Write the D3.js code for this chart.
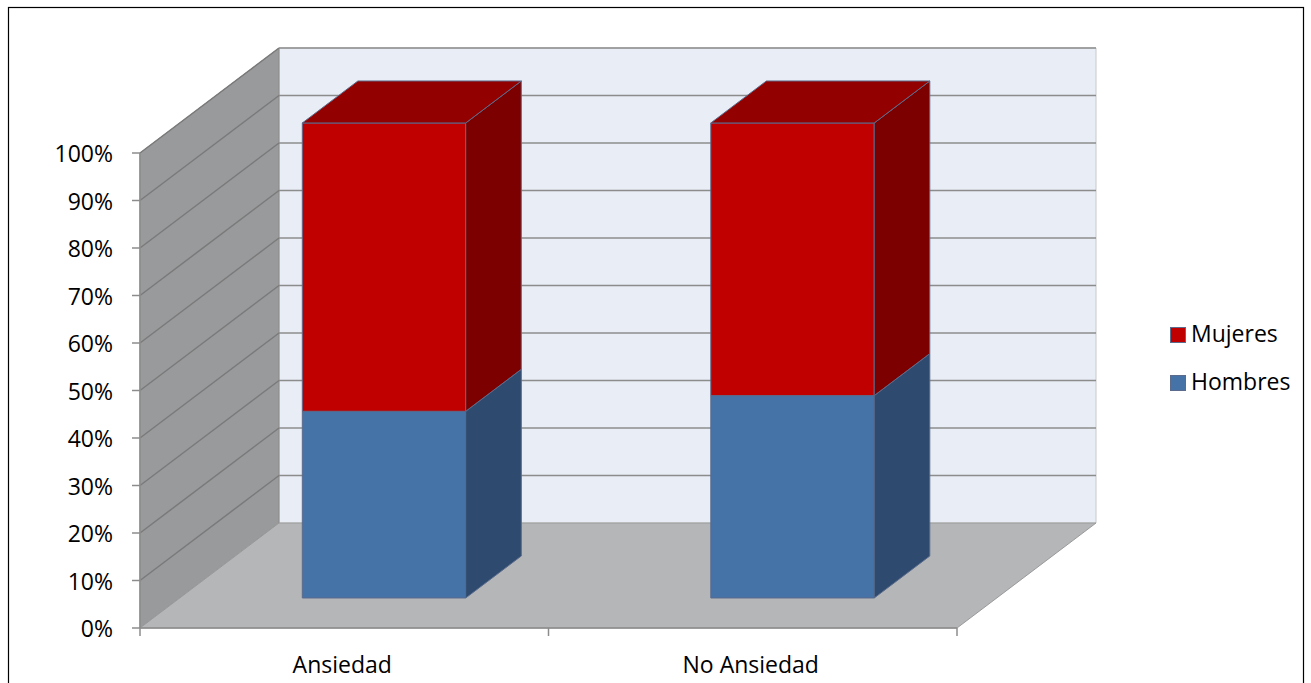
<!DOCTYPE html>
<html>
<head>
<meta charset="utf-8">
<script src="https://cdn.jsdelivr.net/npm/d3@7"></script>
<style>
  body { margin: 0; background: #fff; }
  text { font-family: "Open Sans", "Liberation Sans", sans-serif; fill: #000; }
</style>
</head>
<body>
<div id="chart"></div>
<script>
// Chart data
const categories = ["Ansiedad", "No Ansiedad"];
const seriesNames = ["Hombres", "Mujeres"];
const hombres = [0.393, 0.426];
const mujeres = [0.607, 0.574];
const tickValues = [0, 0.1, 0.2, 0.3, 0.4, 0.5, 0.6, 0.7, 0.8, 0.9, 1];

const width = 1311, height = 683;

const svg = d3.select("#chart").append("svg")
  .attr("width", width)
  .attr("height", height);

// Outer border
svg.append("rect")
  .attr("x", 8.5).attr("y", 7.5)
  .attr("width", 1295).attr("height", 690)
  .attr("fill", "none")
  .attr("stroke", "#000")
  .attr("stroke-width", 1.2);

// Front plane scales
const x = d3.scaleBand().domain(categories).range([140, 957]).padding(0);
const y = d3.scaleLinear().domain([0, 1]).range([628, 153]);

// Depth offset for the 3D projection
const depthX = 139, depthY = -105;
function pt(px, v, d) {
  return [px + d * depthX, y(v) + d * depthY];
}
const poly = pts => "M" + pts.map(p => p.join(",")).join("L") + "Z";

const x0 = x.range()[0], x1 = x.range()[1];

// Back wall
svg.append("path")
  .attr("d", poly([pt(x0, 0, 1), pt(x1, 0, 1), pt(x1, 1, 1), pt(x0, 1, 1)]))
  .attr("fill", "#e9edf5")
  .attr("stroke", "#c8c8c8");

// Side wall
svg.append("path")
  .attr("d", poly([pt(x0, 0, 0), pt(x0, 0, 1), pt(x0, 1, 1), pt(x0, 1, 0)]))
  .attr("fill", "#999a9c")
  .attr("stroke", "#8a8a8a");

// Floor
svg.append("path")
  .attr("d", poly([pt(x0, 0, 0), pt(x1, 0, 0), pt(x1, 0, 1), pt(x0, 0, 1)]))
  .attr("fill", "#b4b6b8")
  .attr("stroke", "#9a9a9a");

// Gridlines: side wall part, then back wall part
const grid = svg.append("g");
tickValues.slice(1).forEach(v => {
  grid.append("path")
    .attr("d", "M" + pt(x0, v, 0) + "L" + pt(x0, v, 1))
    .attr("fill", "none")
    .attr("stroke", "#7a7a7a")
    .attr("stroke-width", 1.5);
  grid.append("path")
    .attr("d", "M" + pt(x0, v, 1) + "L" + pt(x1, v, 1))
    .attr("fill", "none")
    .attr("stroke", "#8c8c8c")
    .attr("stroke-width", 1.5);
});

// Axes
svg.append("line")
  .attr("x1", x0).attr("x2", x1).attr("y1", y(0)).attr("y2", y(0))
  .attr("stroke", "#8c8c8c").attr("stroke-width", 1.5);
svg.append("line")
  .attr("x1", x0).attr("x2", x0).attr("y1", y(0)).attr("y2", y(1))
  .attr("stroke", "#8c8c8c").attr("stroke-width", 1.5);

svg.selectAll(".ytick")
  .data(tickValues)
  .enter().append("line")
  .attr("x1", x0 - 8).attr("x2", x0)
  .attr("y1", d => y(d)).attr("y2", d => y(d))
  .attr("stroke", "#8c8c8c").attr("stroke-width", 1.5);

svg.selectAll(".ylabel")
  .data(tickValues)
  .enter().append("text")
  .attr("x", 113)
  .attr("y", d => y(d) + 9)
  .attr("text-anchor", "end")
  .style("font-size", "23px")
  .text(d => d3.format(".0%")(d));

const xTicks = categories.map(c => x(c)).concat([x1]);
svg.selectAll(".xtick")
  .data(xTicks)
  .enter().append("line")
  .attr("x1", d => d).attr("x2", d => d)
  .attr("y1", y(0)).attr("y2", y(0) + 8)
  .attr("stroke", "#8c8c8c").attr("stroke-width", 1.5);

svg.selectAll(".xlabel")
  .data(categories)
  .enter().append("text")
  .attr("x", d => x(d) + x.bandwidth() / 2 - 2)
  .attr("y", 673)
  .attr("text-anchor", "middle")
  .style("font-size", "23px")
  .text(d => d);

// 3D bars
const barFrac = 0.4, dFront = 0.286, dBack = 0.686;
const colors = {
  Hombres: { front: "#4572a7", top: "#3a5f8c", side: "#2e4a6e" },
  Mujeres: { front: "#c00000", top: "#930000", side: "#7c0000" }
};
const edge = "#5a6b8c";

categories.forEach((c, i) => {
  const bx0 = x(c) + x.bandwidth() * (1 - barFrac) / 2;
  const bx1 = bx0 + x.bandwidth() * barFrac;
  const segments = [
    { name: "Hombres", v0: 0, v1: hombres[i] },
    { name: "Mujeres", v0: hombres[i], v1: hombres[i] + mujeres[i] }
  ];
  const g = svg.append("g");
  segments.forEach((s, si) => {
    const col = colors[s.name];
    // front face
    g.append("path")
      .attr("d", poly([pt(bx0, s.v0, dFront), pt(bx1, s.v0, dFront), pt(bx1, s.v1, dFront), pt(bx0, s.v1, dFront)]))
      .attr("fill", col.front).attr("stroke", edge).attr("stroke-width", 1);
    // side face
    g.append("path")
      .attr("d", poly([pt(bx1, s.v0, dFront), pt(bx1, s.v0, dBack), pt(bx1, s.v1, dBack), pt(bx1, s.v1, dFront)]))
      .attr("fill", col.side).attr("stroke", edge).attr("stroke-width", 1);
    // top face only on the last segment
    if (si === segments.length - 1) {
      g.append("path")
        .attr("d", poly([pt(bx0, s.v1, dFront), pt(bx1, s.v1, dFront), pt(bx1, s.v1, dBack), pt(bx0, s.v1, dBack)]))
        .attr("fill", col.top).attr("stroke", edge).attr("stroke-width", 1);
    }
  });
});

// Legend
const legendItems = seriesNames.slice().reverse();
const legend = svg.append("g").attr("transform", "translate(1170, 327)");
legendItems.forEach((name, i) => {
  legend.append("rect")
    .attr("x", 0.5).attr("y", i * 48 + 0.5)
    .attr("width", 15).attr("height", 15)
    .attr("fill", colors[name].front)
    .attr("stroke", edge).attr("stroke-width", 1);
  legend.append("text")
    .attr("x", 21).attr("y", i * 48 + 15)
    .style("font-size", "23px")
    .text(name);
});
</script>
</body>
</html>
